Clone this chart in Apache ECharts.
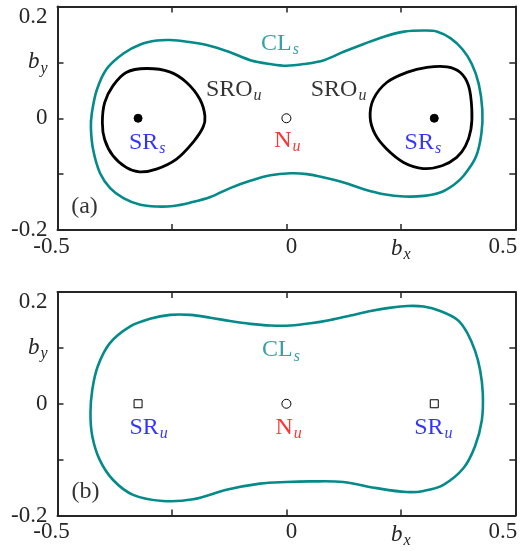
<!DOCTYPE html>
<html>
<head>
<meta charset="utf-8">
<script src="https://cdn.jsdelivr.net/npm/echarts@6/dist/echarts.min.js"></script>
<style>
html, body { margin: 0; padding: 0; background: #fff; }
#chart { width: 520px; height: 551px; }
</style>
</head>
<body>
<div id="chart"></div>
<script>
// Tick values and the text shown at each (axis names sit on the 0.25 / 0.1 ticks)
const xTicks = [-0.5, -0.25, 0, 0.25, 0.5];
const xTickLabels = ['-0.5', '', '0', 'b_x', '0.5'];
const yTicks = [-0.2, -0.1, 0, 0.1, 0.2];
const yTickLabels = ['-0.2', '', '0', 'b_y', '0.2'];

// Panel (a): stable limit cycle CL_s
const clA = [
  [0.000, 0.094], [0.038, 0.097], [0.082, 0.104], [0.125, 0.119], [0.169, 0.133],
  [0.213, 0.146], [0.257, 0.155], [0.300, 0.157], [0.330, 0.155], [0.359, 0.143],
  [0.385, 0.123], [0.405, 0.097], [0.420, 0.062], [0.428, 0.015], [0.426, -0.027],
  [0.414, -0.069], [0.388, -0.102], [0.366, -0.119], [0.336, -0.133], [0.300, -0.139],
  [0.257, -0.140], [0.213, -0.136], [0.169, -0.127], [0.125, -0.115], [0.082, -0.106],
  [0.045, -0.100], [0.009, -0.0985], [-0.035, -0.102], [-0.079, -0.112], [-0.123, -0.125],
  [-0.166, -0.141], [-0.210, -0.151], [-0.247, -0.157], [-0.283, -0.158], [-0.319, -0.155],
  [-0.356, -0.143], [-0.385, -0.125], [-0.407, -0.0985], [-0.422, -0.057], [-0.427, -0.018],
  [-0.425, 0.009], [-0.414, 0.051], [-0.392, 0.089], [-0.356, 0.116], [-0.319, 0.132],
  [-0.283, 0.139], [-0.254, 0.140], [-0.217, 0.137], [-0.174, 0.131], [-0.123, 0.118],
  [-0.079, 0.104], [-0.035, 0.097]
];

// Panel (a): unstable orbits SRO_u around each SR_s
const sroLeft = [
  [-0.306, 0.089], [-0.255, 0.083], [-0.218, 0.064], [-0.189, 0.034], [-0.178, 0.004],
  [-0.182, -0.016], [-0.204, -0.043], [-0.240, -0.073], [-0.284, -0.091], [-0.321, -0.096],
  [-0.350, -0.088], [-0.379, -0.067], [-0.397, -0.038], [-0.402, -0.008], [-0.397, 0.028],
  [-0.379, 0.058], [-0.350, 0.082]
];
const sroRight = [
  [0.183, 0.001], [0.190, 0.034], [0.219, 0.064], [0.263, 0.082], [0.307, 0.091],
  [0.351, 0.092], [0.380, 0.082], [0.398, 0.058], [0.405, 0.016], [0.403, -0.020],
  [0.391, -0.050], [0.372, -0.070], [0.340, -0.085], [0.299, -0.090], [0.256, -0.079],
  [0.219, -0.055], [0.194, -0.029]
];

// Panel (b): stable limit cycle CL_s
const clB = [
  [0.009, 0.140], [0.053, 0.144], [0.096, 0.150], [0.140, 0.158], [0.184, 0.166],
  [0.228, 0.172], [0.264, 0.175], [0.300, 0.174], [0.336, 0.166], [0.374, 0.150],
  [0.395, 0.127], [0.412, 0.095], [0.423, 0.061], [0.429, 0.019], [0.427, -0.029],
  [0.412, -0.076], [0.387, -0.115], [0.343, -0.145], [0.300, -0.156], [0.262, -0.158],
  [0.197, -0.151], [0.124, -0.140], [0.051, -0.139], [0.000, -0.140], [-0.058, -0.143],
  [-0.131, -0.154], [-0.204, -0.171], [-0.270, -0.174], [-0.335, -0.163], [-0.379, -0.136],
  [-0.408, -0.100], [-0.424, -0.058], [-0.428, -0.017], [-0.424, 0.025], [-0.412, 0.067],
  [-0.386, 0.108], [-0.342, 0.138], [-0.298, 0.152], [-0.254, 0.159],
  [-0.210, 0.159], [-0.166, 0.154], [-0.123, 0.148], [-0.079, 0.143], [-0.035, 0.140]
];

// Equilibria on the b_x axis
const srX = [-0.324, 0.323];
const nX = [0];

// Annotations: [b_x, b_y, text]
const notesA = [
  [-0.014, 0.134, 'CL_s'],
  [-0.115, 0.051, 'SRO_u'],
  [0.114, 0.051, 'SRO_u'],
  [-0.304, -0.043, 'SR_s'],
  [0.298, -0.043, 'SR_s'],
  [0.002, -0.040, 'N_u'],
  [-0.441, -0.159, '(a)']
];
const notesB = [
  [-0.012, 0.0965, 'CL_s'],
  [-0.301, -0.042, 'SR_u'],
  [0.321, -0.042, 'SR_u'],
  [0.005, -0.042, 'N_u'],
  [-0.439, -0.158, '(b)']
];

// ---- styling ----
const SERIF = 'Liberation Serif';
const AXIS = '#262626';
const TEAL = '#058a8a';
const COLORS = { teal: TEAL, black: '#000000', blue: '#0000ff', red: '#ff0000' };

function kindColor(text) {
  if (text.startsWith('CL')) return 'teal';
  if (text.startsWith('SRO')) return 'black';
  if (text.startsWith('SR')) return 'blue';
  if (text.startsWith('N')) return 'red';
  return 'black';
}

const noteRich = {};
Object.keys(COLORS).forEach(function (k) {
  noteRich[k] = { color: COLORS[k], fontFamily: SERIF, fontSize: 24 };
  noteRich[k + 'S'] = { color: COLORS[k], fontFamily: SERIF, fontSize: 16, fontStyle: 'italic', padding: [13, 0, 0, 1] };
});

function noteText(text) {
  const k = kindColor(text);
  const parts = text.split('_');
  let s = '{' + k + '|' + parts[0] + '}';
  if (parts.length > 1) s += '{' + k + 'S|' + parts[1] + '}';
  return s;
}

// horizontal nudges of the x tick labels (padding per tick index)
const xLabelPad = [[0, 12, 0, 0], [0, 0, 0, 0], [0, 0, 0, 10], [0, 0, 0, 0], [0, 25, 0, 0]];

const tickRich = {
  it: { fontFamily: SERIF, fontSize: 23, fontStyle: 'italic', color: AXIS },
  itS: { fontFamily: SERIF, fontSize: 16, fontStyle: 'italic', color: AXIS, padding: [12, 0, 0, 1] },
  top: { fontFamily: SERIF, fontSize: 23, color: AXIS, padding: [20, 0, 0, 0] },
  n: { fontFamily: SERIF, fontSize: 23, color: AXIS }
};
xLabelPad.forEach(function (p, i) {
  tickRich['x' + i] = { fontFamily: SERIF, fontSize: 23, color: AXIS, padding: p };
});

function tickIndex(ticks, v) {
  return ticks.findIndex(function (t) { return Math.abs(t - v) < 1e-9; });
}
function axisName(s) {
  const p = s.split('_');
  return '{it|' + p[0] + '}{itS|' + p[1] + '}';
}
function xFmt(v) {
  const i = tickIndex(xTicks, v);
  if (i < 0 || !xTickLabels[i]) return '';
  const s = xTickLabels[i];
  if (s.indexOf('_') >= 0) return axisName(s);
  return '{x' + i + '|' + s + '}';
}
function yFmt(v) {
  const i = tickIndex(yTicks, v);
  if (i < 0 || !yTickLabels[i]) return '';
  const s = yTickLabels[i];
  if (s.indexOf('_') >= 0) return axisName(s);
  if (i === yTicks.length - 1) return '{top|' + s + '}';
  return '{n|' + s + '}';
}

const lineAxis = { show: true, onZero: false, lineStyle: { color: AXIS, width: 2 } };
const tickStyle = { show: true, inside: true, length: 6, lineStyle: { color: AXIS, width: 1.5 } };

function xAxes(g) {
  const base = {
    gridIndex: g, type: 'value', min: xTicks[0], max: xTicks[xTicks.length - 1],
    interval: xTicks[1] - xTicks[0],
    axisLine: lineAxis, axisTick: tickStyle, splitLine: { show: false }
  };
  return [
    Object.assign({}, base, {
      position: 'bottom',
      axisLabel: { show: true, margin: 5, formatter: xFmt, rich: tickRich, showMinLabel: true, showMaxLabel: true, hideOverlap: false }
    }),
    Object.assign({}, base, { position: 'top', axisLabel: { show: false } })
  ];
}
function yAxes(g) {
  const base = {
    gridIndex: g, type: 'value', min: yTicks[0], max: yTicks[yTicks.length - 1],
    interval: yTicks[1] - yTicks[0],
    axisLine: lineAxis, axisTick: tickStyle, splitLine: { show: false }
  };
  return [
    Object.assign({}, base, {
      position: 'left',
      axisLabel: { show: true, margin: 10, formatter: yFmt, rich: tickRich, showMinLabel: true, showMaxLabel: true, hideOverlap: false }
    }),
    Object.assign({}, base, { position: 'right', axisLabel: { show: false } })
  ];
}

// A closed orbit: one smooth closed path through the listed points,
// placed through the panel's own axes with api.coord.
function orbit(data, g, color, width) {
  return {
    type: 'custom', coordinateSystem: 'cartesian2d',
    xAxisIndex: 2 * g, yAxisIndex: 2 * g,
    data: data,
    renderItem: function (params, api) {
      if (params.dataIndex !== 0) return null;
      const pts = data.map(function (p) { return api.coord(p); });
      return {
        type: 'polygon',
        shape: { points: pts, smooth: 0.35 },
        style: { fill: 'none', stroke: color, lineWidth: width },
        silent: true
      };
    },
    silent: true, animation: false, z: 2
  };
}
function points(xs, g, symbol, size, fill, border) {
  return {
    type: 'scatter', xAxisIndex: 2 * g, yAxisIndex: 2 * g,
    data: xs.map(function (x) { return [x, 0]; }),
    symbol: symbol, symbolSize: size,
    itemStyle: { color: fill, borderColor: border, borderWidth: 1, opacity: 1 },
    silent: true, animation: false, z: 4
  };
}
function notes(list, g) {
  return {
    type: 'scatter', xAxisIndex: 2 * g, yAxisIndex: 2 * g,
    data: list, symbolSize: 0,
    itemStyle: { color: 'transparent' },
    label: {
      show: true, position: 'inside',
      formatter: function (p) { return noteText(p.data[2]); },
      rich: noteRich
    },
    silent: true, animation: false, z: 5
  };
}

const chart = echarts.init(document.getElementById('chart'), null, { renderer: 'canvas' });
chart.setOption({
  backgroundColor: '#ffffff',
  animation: false,
  grid: [
    { left: 57.5, right: 4.7, top: 6.5, height: 223.5, outerBoundsMode: 'none', containLabel: false },
    { left: 57.5, right: 4.7, top: 292, height: 223.5, outerBoundsMode: 'none', containLabel: false }
  ],
  xAxis: xAxes(0).concat(xAxes(1)),
  yAxis: yAxes(0).concat(yAxes(1)),
  series: [
    orbit(clA, 0, TEAL, 2.6),
    orbit(sroLeft, 0, '#000000', 2.8),
    orbit(sroRight, 0, '#000000', 2.8),
    points(srX, 0, 'circle', 8, '#000000', '#000000'),
    points(nX, 0, 'circle', 9, '#ffffff', '#000000'),
    notes(notesA, 0),
    orbit(clB, 1, TEAL, 2.6),
    points(srX, 1, 'rect', 8, '#ffffff', '#000000'),
    points(nX, 1, 'circle', 9, '#ffffff', '#000000'),
    notes(notesB, 1)
  ]
});
</script>
</body>
</html>
